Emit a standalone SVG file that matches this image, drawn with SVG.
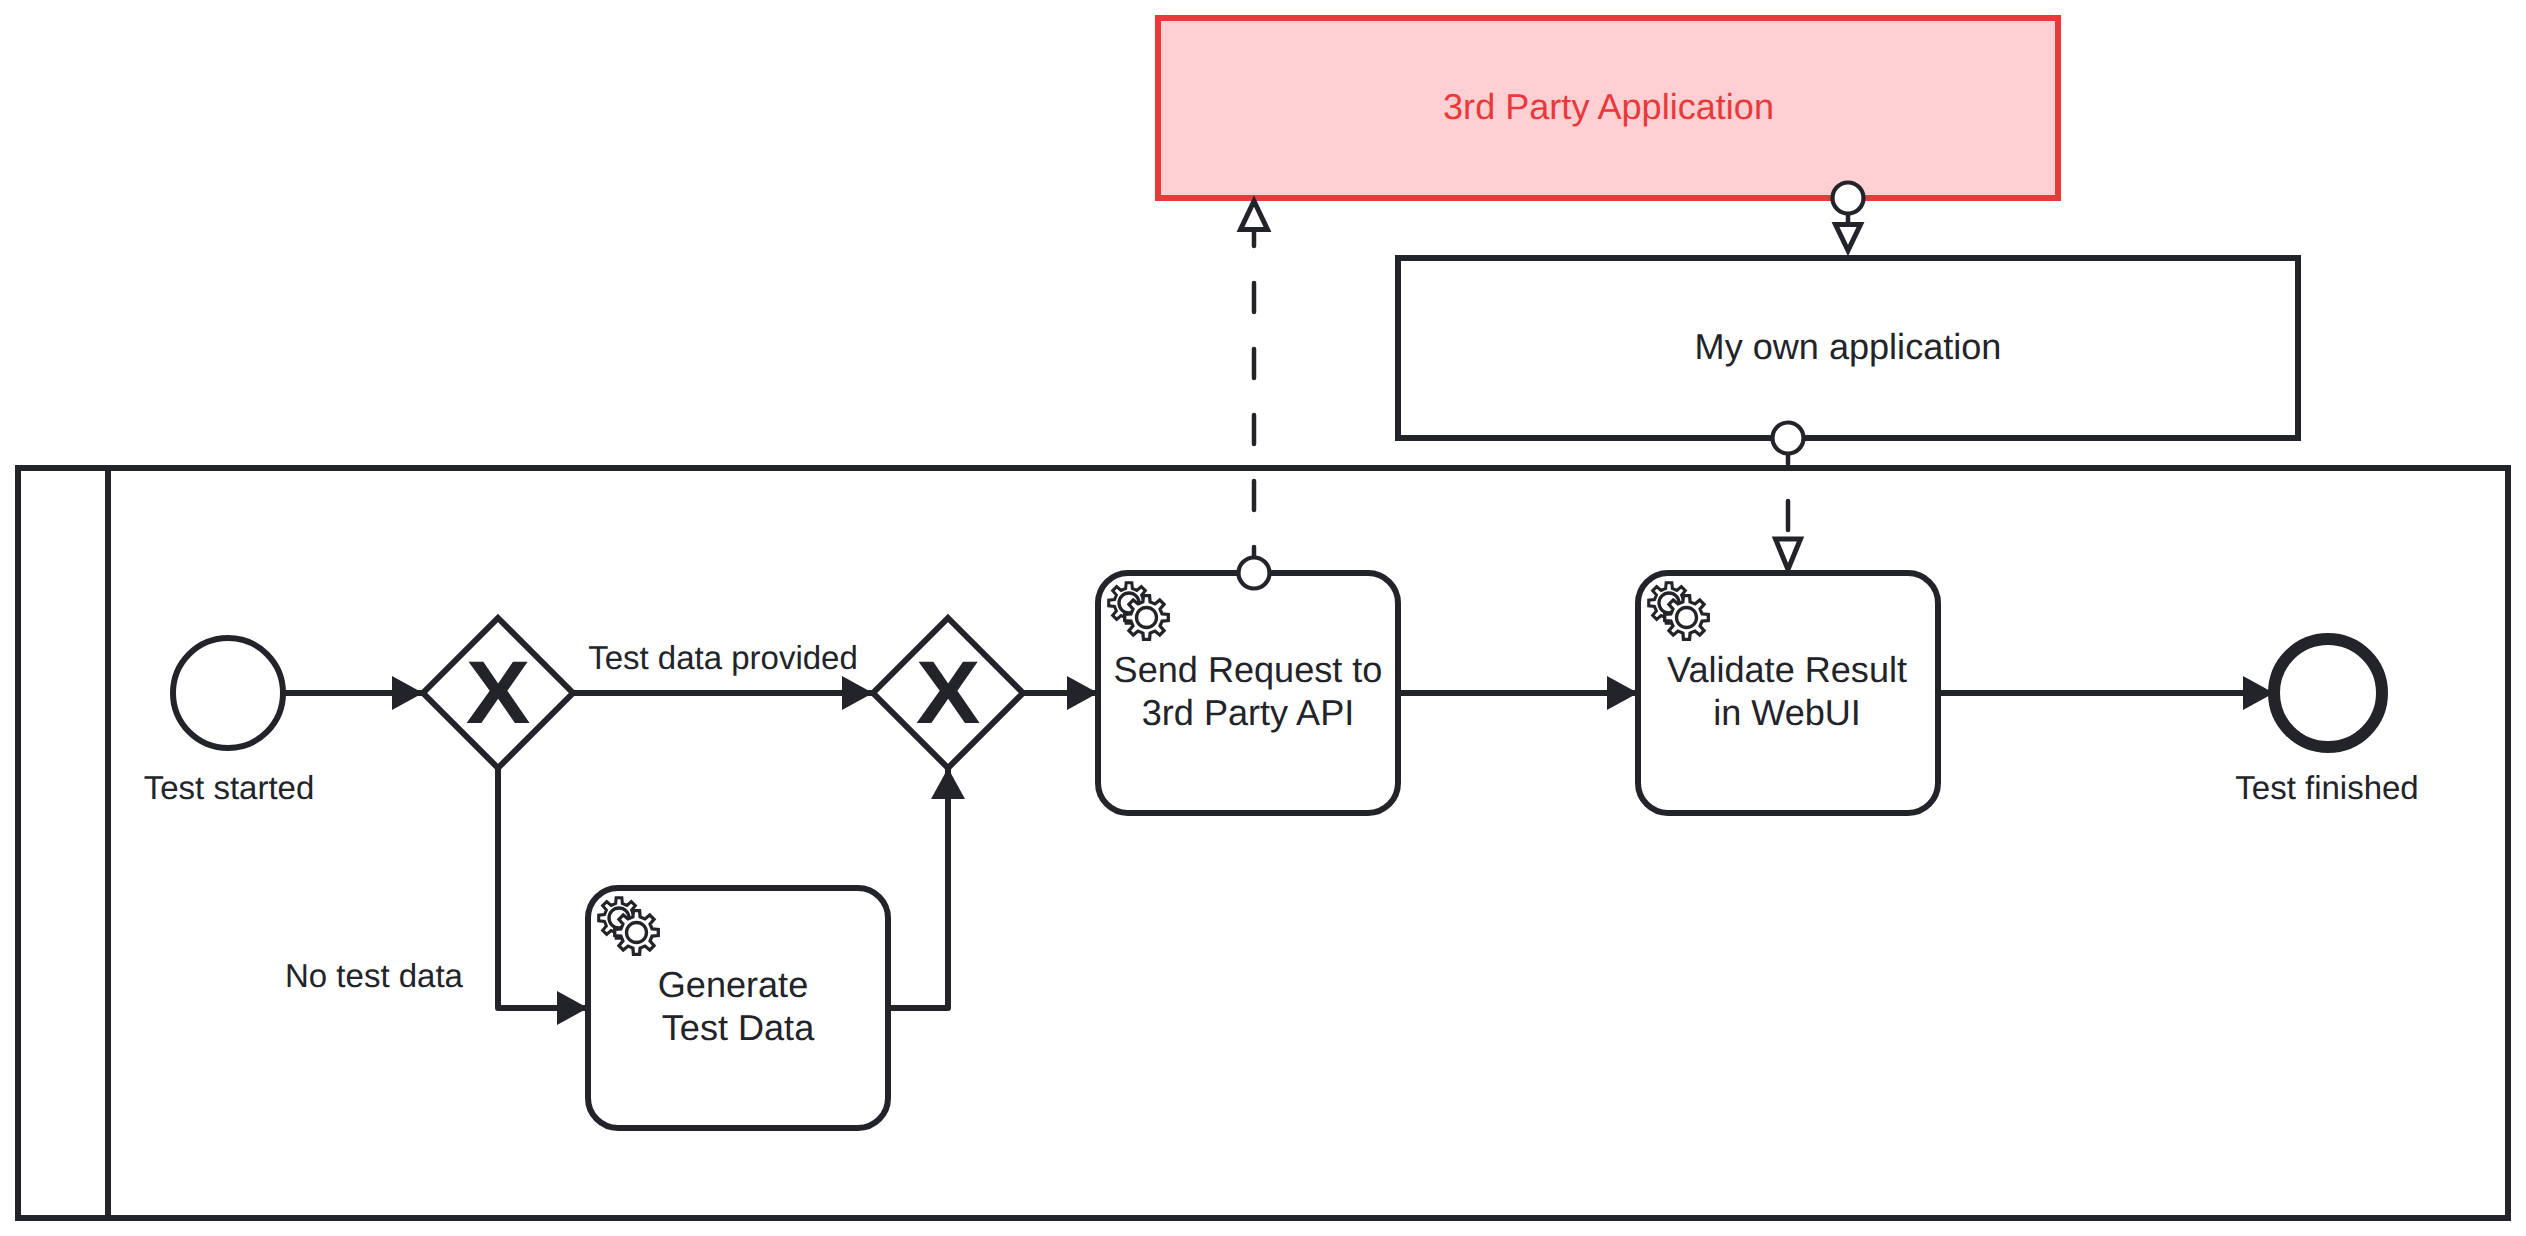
<svg xmlns="http://www.w3.org/2000/svg" width="2526" height="1236" viewBox="0 0 2526 1236">
<style>
text{font-family:"Liberation Sans",Arial,sans-serif;fill:#22242a;text-anchor:middle;text-rendering:geometricPrecision}
.t{font-size:36.100px}
.l{font-size:33px}
.x{font-size:89px;font-weight:bold}
.s{fill:#fff;stroke:#22242a;stroke-width:6}
.f{stroke:#22242a;stroke-width:6;fill:none;stroke-linejoin:round}
.d{stroke:#22242a;stroke-width:4.500;fill:none;stroke-dasharray:29 37;stroke-linecap:round}
.c{fill:#fff;stroke:#22242a;stroke-width:4.200}
.g{fill:#fff;stroke:#22242a;stroke-width:3.300;stroke-linejoin:miter}
.o{fill:#fff;stroke:#22242a;stroke-width:5}
</style>
<defs>
<marker id="a" markerUnits="userSpaceOnUse" markerWidth="34" markerHeight="38" refX="31" refY="19" orient="auto"><path d="M0,2L31,19L0,36Z" fill="#22242a"/></marker>
<path id="gp" d="M15.59,-3.6L21.79,-3.06L21.79,3.06L15.59,3.6L13.57,8.48L17.57,13.24L13.24,17.57L8.48,13.57L3.6,15.59L3.06,21.79L-3.06,21.79L-3.6,15.59L-8.48,13.57L-13.24,17.57L-17.57,13.24L-13.57,8.48L-15.59,3.6L-21.79,3.06L-21.79,-3.06L-15.59,-3.6L-13.57,-8.48L-17.57,-13.24L-13.24,-17.57L-8.48,-13.57L-3.6,-15.59L-3.06,-21.79L3.06,-21.79L3.6,-15.59L8.48,-13.57L13.24,-17.57L17.57,-13.24L13.57,-8.48Z"/>
<g id="gears"><use href="#gp" class="g" transform="translate(31 30) scale(.93)"/><circle cx="31" cy="30" r="10" class="g"/><use href="#gp" class="g" x="48.500" y="44.500"/><circle cx="48.500" cy="44.500" r="10" class="g"/></g>
</defs>
<g id="pool"><rect x="18" y="468" width="2490" height="750" fill="#fff" stroke="#22242a" stroke-width="6"/><line x1="108" y1="468" x2="108" y2="1218" class="f"/></g>
<g id="app-3rd"><rect x="1158" y="18" width="900" height="180" fill="#ffcfd4" stroke="#e83a3a" stroke-width="6"/><text x="1608.500" y="119" class="t" style="fill:#e83a3a">3rd Party Application</text></g>
<g id="app-own"><rect x="1398" y="258" width="900" height="180" class="s"/><text x="1848" y="359" class="t">My own application</text></g>
<g id="connectors">
<path class="f" d="M283,693H423" marker-end="url(#a)"/>
<path class="f" d="M573,693H873" marker-end="url(#a)"/>
<path class="f" d="M1023,693H1098" marker-end="url(#a)"/>
<path class="f" d="M1398,693H1638" marker-end="url(#a)"/>
<path class="f" d="M1938,693H2274" marker-end="url(#a)"/>
<path class="f" d="M498,768V1008H588" marker-end="url(#a)"/>
<path class="f" d="M888,1008H948V768" marker-end="url(#a)"/>
<path class="d" d="M1254,576V205"/>
<path class="d" d="M1788,435V545"/>
<path d="M1848,198V228" stroke="#22242a" stroke-width="4.500"/>
<path d="M1254,201L1240.500,229.500H1267.500Z" class="o"/>
<path d="M1848,250.500L1835.500,224.500H1860.500Z" class="o"/>
<path d="M1788,569.500L1775.500,539H1800.500Z" class="o"/>
</g>
<g id="start"><circle cx="228" cy="693" r="55" class="s"/><text x="229" y="798.500" class="l">Test started</text></g>
<g id="gw1"><path d="M498,618L573,693L498,768L423,693Z" class="s"/><text transform="translate(498 723) scale(1.09 1)" class="x">X</text></g>
<g id="gw2"><path d="M948,618L1023,693L948,768L873,693Z" class="s"/><text transform="translate(948 723) scale(1.09 1)" class="x">X</text></g>
<g id="task-send"><rect x="1098" y="573" width="300" height="240" rx="30" class="s"/><use href="#gears" x="1098" y="573"/><text x="1248" y="682" class="t">Send Request to</text><text x="1248" y="725" class="t">3rd Party API</text></g>
<g id="task-validate"><rect x="1638" y="573" width="300" height="240" rx="30" class="s"/><use href="#gears" x="1638" y="573"/><text x="1787" y="682" class="t">Validate Result</text><text x="1787" y="725" class="t">in WebUI</text></g>
<g id="task-generate"><rect x="588" y="888" width="300" height="240" rx="30" class="s"/><use href="#gears" x="588" y="888"/><text x="733" y="997" class="t">Generate</text><text x="738" y="1040" class="t">Test Data</text></g>
<g id="end"><circle cx="2328" cy="693" r="54" fill="#fff" stroke="#22242a" stroke-width="12"/><text x="2327" y="798.500" class="l">Test finished</text></g>
<g id="labels"><text x="723" y="669" class="l">Test data provided</text><text x="374" y="987" class="l">No test data</text></g>
<g id="ports"><circle cx="1254" cy="573" r="15.500" class="c"/><circle cx="1848" cy="198" r="15.500" class="c"/><circle cx="1788" cy="438" r="15.500" class="c"/></g>
</svg>
